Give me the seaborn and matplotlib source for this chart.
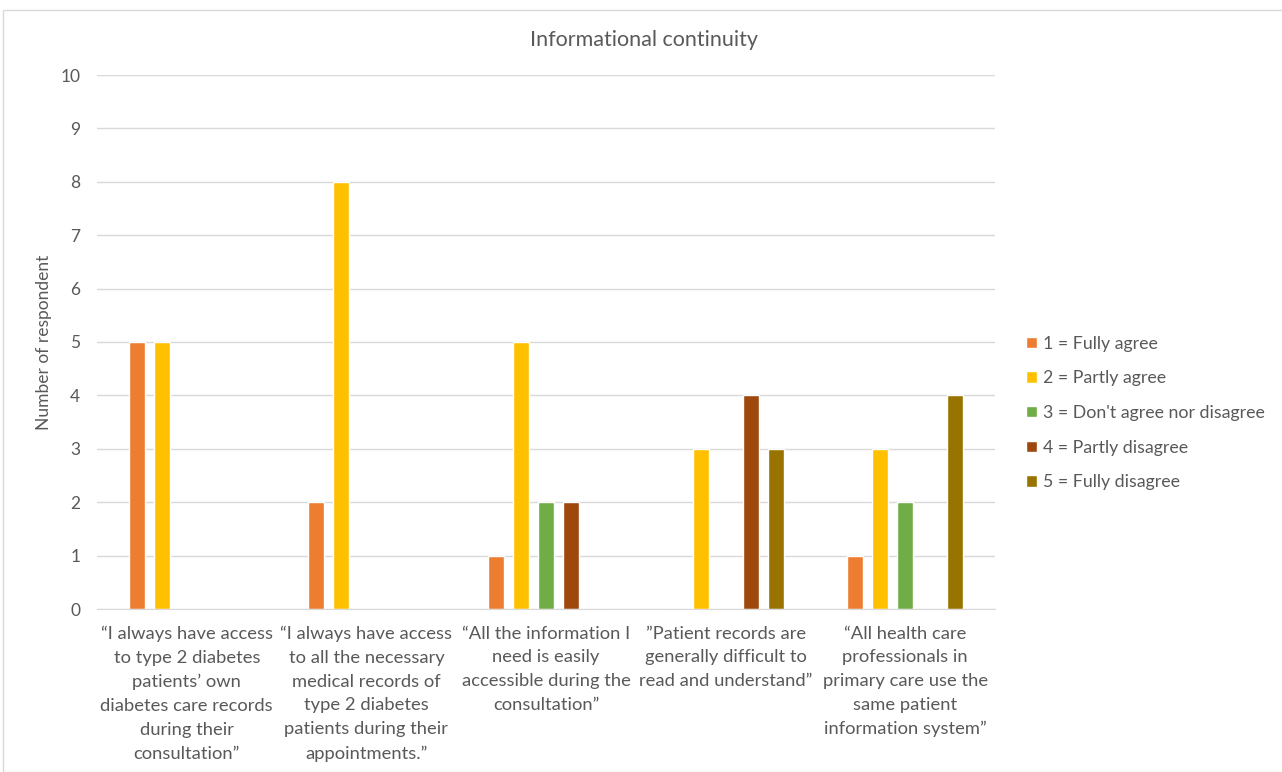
import matplotlib
matplotlib.use("Agg")
import matplotlib.pyplot as plt
import seaborn as sns
import pandas as pd
from matplotlib.patches import Rectangle

categories = [
    "\u201cI always have access\nto type 2 diabetes\npatients\u2019 own\ndiabetes care records\nduring their\nconsultation\u201d",
    "\u201cI always have access\nto all the necessary\nmedical records of\ntype 2 diabetes\npatients during their\nappointments.\u201d",
    "\u201cAll the information I\nneed is easily\naccessible during the\nconsultation\u201d",
    "\u201dPatient records are\ngenerally difficult to\nread and understand\u201d",
    "\u201cAll health care\nprofessionals in\nprimary care use the\nsame patient\ninformation system\u201d",
]
series = ["1 = Fully agree", "2 = Partly agree", "3 = Don't agree nor disagree",
          "4 = Partly disagree", "5 = Fully disagree"]
fully_agree = [5, 2, 1, 0, 1]
partly_agree = [5, 8, 5, 3, 3]
neutral = [0, 0, 2, 0, 2]
partly_disagree = [0, 0, 2, 4, 0]
fully_disagree = [0, 0, 0, 3, 4]
colors = ["#ED7D31", "#FFC000", "#70AD47", "#9E480E", "#997300"]
title = "Informational continuity"
ylabel = "Number of respondent"

values = [fully_agree, partly_agree, neutral, partly_disagree, fully_disagree]
rows = []
for s, vals in zip(series, values):
    for c, v in zip(categories, vals):
        rows.append({"category": c, "series": s, "value": v})
df = pd.DataFrame(rows)

sns.set_style("white")
plt.rcParams["font.family"] = ["Lato", "DejaVu Sans"]
text_color = "#595959"

fig = plt.figure(figsize=(12.82, 7.72), dpi=100)
ax = fig.add_axes([97 / 1282, 1 - 609 / 772, (995 - 97) / 1282, (609 - 75) / 772])

sns.barplot(data=df, x="category", y="value", hue="series", order=categories,
            hue_order=series, palette=colors, width=0.696, gap=0.36,
            saturation=1, errorbar=None, ax=ax, legend=True)

ax.set_ylim(0, 10)
ax.set_yticks(range(0, 11))
ax.yaxis.grid(True, color="#D9D9D9", linewidth=1)
ax.set_axisbelow(True)
for side in ["top", "right", "left"]:
    ax.spines[side].set_visible(False)
ax.spines["bottom"].set_color("#D9D9D9")
ax.tick_params(axis="both", length=0, colors=text_color)
ax.tick_params(axis="x", pad=12, labelsize=13.2)
ax.tick_params(axis="y", pad=12, labelsize=12.5)
for lbl in ax.get_xticklabels():
    lbl.set_linespacing(1.6)
ax.set_xlabel("")
ax.set_ylabel(ylabel, color=text_color, fontsize=12.5)
ax.yaxis.set_label_coords(-0.05, 0.5)
fig.text(644 / 1282, 1 - 40 / 772, title, color=text_color, fontsize=15.5,
         ha="center", va="center")

handles, labels = ax.get_legend_handles_labels()
ax.get_legend().remove()
fig.legend(handles, labels, loc="center left", bbox_to_anchor=(1010 / 1282, 1 - 413 / 772),
           frameon=False, fontsize=12.8, labelcolor=text_color, handlelength=0.6,
           handleheight=0.6, handletextpad=0.35, labelspacing=1.05)

fig.patches.append(Rectangle((3 / 1282, 0), 1.0, 1 - 10 / 772, transform=fig.transFigure,
                             fill=False, edgecolor="#D9D9D9", linewidth=1))

fig.savefig("out.png", dpi=100)
